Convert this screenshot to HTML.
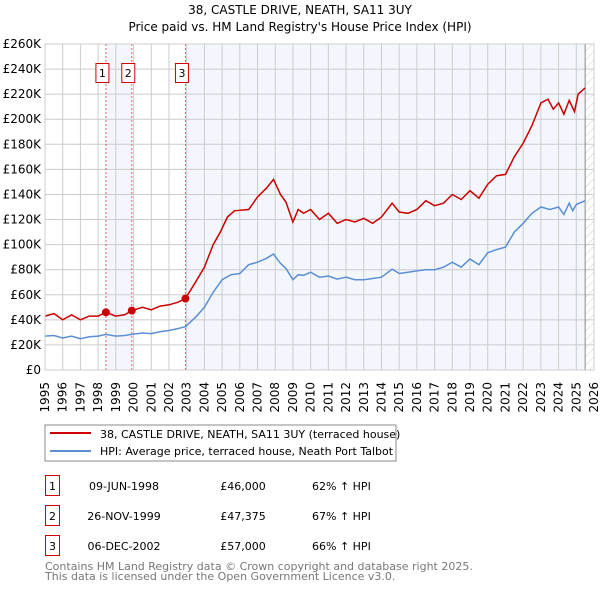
<!DOCTYPE html>
<html><head><meta charset="utf-8"><style>
body{margin:0;background:#fff;font-family:"Liberation Sans","DejaVu Sans",sans-serif}
svg text{font-family:"DejaVu Sans","Liberation Sans",sans-serif}
</style></head><body>
<svg id="c" width="600" height="590" xmlns="http://www.w3.org/2000/svg">
<defs><pattern id="hatch" width="6" height="6" patternUnits="userSpaceOnUse" patternTransform="rotate(45)"><line x1="0" y1="0" x2="0" y2="6" stroke="#ccc" stroke-width="1"/></pattern></defs>
<text x="300" y="14" text-anchor="middle" font-size="12" fill="#000">38, CASTLE DRIVE, NEATH, SA11 3UY</text>
<text x="300" y="31" text-anchor="middle" font-size="12" fill="#000">Price paid vs. HM Land Registry's House Price Index (HPI)</text>
<g id="plot"></g>
<rect x="45" y="425" width="351" height="36" fill="#fff" stroke="#888"/>
<line x1="50" y1="433" x2="91" y2="433" stroke="#cc0000" stroke-width="2"/>
<text x="100" y="438" font-size="11">38, CASTLE DRIVE, NEATH, SA11 3UY (terraced house)</text>
<line x1="50" y1="451" x2="91" y2="451" stroke="#5b8fd4" stroke-width="2"/>
<text x="100" y="455" font-size="11">HPI: Average price, terraced house, Neath Port Talbot</text>
<g font-size="11">
<rect x="45.5" y="475.5" width="14" height="20" fill="none" stroke="#c00"/><text x="52.5" y="490" text-anchor="middle">1</text>
<text x="124" y="490" text-anchor="middle">09-JUN-1998</text><text x="243" y="490" text-anchor="middle">£46,000</text><text x="312" y="490">62% ↑ HPI</text>
<rect x="45.5" y="505.5" width="14" height="20" fill="none" stroke="#c00"/><text x="52.5" y="520" text-anchor="middle">2</text>
<text x="124" y="520" text-anchor="middle">26-NOV-1999</text><text x="243" y="520" text-anchor="middle">£47,375</text><text x="312" y="520">67% ↑ HPI</text>
<rect x="45.5" y="535.5" width="14" height="20" fill="none" stroke="#c00"/><text x="52.5" y="550" text-anchor="middle">3</text>
<text x="124" y="550" text-anchor="middle">06-DEC-2002</text><text x="243" y="550" text-anchor="middle">£57,000</text><text x="312" y="550">66% ↑ HPI</text>
</g>
<text x="45" y="570" font-size="11" fill="#777">Contains HM Land Registry data © Crown copyright and database right 2025.</text>
<text x="45" y="580" font-size="11" fill="#777">This data is licensed under the Open Government Licence v3.0.</text>
</svg>
<script>
const yTicks=[0,20000,40000,60000,80000,100000,120000,140000,160000,180000,200000,220000,240000,260000];
const yTickLabels=["£0","£20K","£40K","£60K","£80K","£100K","£120K","£140K","£160K","£180K","£200K","£220K","£240K","£260K"];
const years=[1995,1996,1997,1998,1999,2000,2001,2002,2003,2004,2005,2006,2007,2008,2009,2010,2011,2012,2013,2014,2015,2016,2017,2018,2019,2020,2021,2022,2023,2024,2025,2026];
const hpiT=[1995,1995.5,1996,1996.5,1997,1997.5,1998,1998.44,1999,1999.5,1999.9,2000.5,2001,2001.5,2002,2002.5,2002.93,2003.5,2004,2004.5,2005,2005.5,2006,2006.5,2007,2007.5,2007.9,2008.3,2008.6,2009,2009.3,2009.6,2010,2010.5,2011,2011.5,2012,2012.5,2013,2013.5,2014,2014.6,2015,2015.5,2016,2016.5,2017,2017.5,2018,2018.5,2019,2019.5,2020,2020.5,2021,2021.5,2022,2022.5,2023,2023.5,2024,2024.3,2024.6,2024.8,2025,2025.5];
const hpiV=[27000,27500,25500,27000,25000,26500,27000,28400,27000,27500,28400,29500,29000,30500,31500,33000,34500,42000,50000,62000,72000,76000,77000,84000,86000,89000,92500,85000,81000,72000,76000,75500,78000,74000,75000,72500,74000,72000,72000,73000,74000,80500,77000,78000,79000,80000,80000,82000,86000,82000,88500,84000,93500,96000,98000,110000,117000,125000,130000,128000,130000,124000,133000,127000,132000,135000];
const priceT=[1995,1995.5,1996,1996.5,1997,1997.5,1998,1998.44,1999,1999.5,1999.9,2000.5,2001,2001.5,2002,2002.5,2002.93,2003.5,2004,2004.5,2004.9,2005.3,2005.7,2006.5,2007,2007.5,2007.9,2008.3,2008.6,2009,2009.3,2009.6,2010,2010.5,2011,2011.5,2012,2012.5,2013,2013.5,2014,2014.6,2015,2015.5,2016,2016.5,2017,2017.5,2018,2018.5,2019,2019.5,2020,2020.5,2021,2021.5,2022,2022.5,2023,2023.4,2023.7,2024,2024.3,2024.6,2024.9,2025.1,2025.5];
const priceV=[43000,45000,40000,44000,40000,43000,43000,46000,43000,44000,47375,50000,48000,51000,52000,54000,57000,70000,82000,100000,110000,122000,127000,128000,138000,145000,152000,140000,134000,118000,128000,125000,128000,120000,125000,117000,120000,118000,121000,117000,122000,133000,126000,125000,128000,135000,131000,133000,140000,136000,143000,137000,148000,155000,156000,170000,181000,195000,213000,216000,208000,213000,204000,215000,206000,220000,225000];
const saleT=[1998.44,1999.9,2002.93];
const saleV=[46000,47375,57000];
const saleLabels=["1","2","3"];

const NS="http://www.w3.org/2000/svg";
const L=45,R=594,T=44,B=370,Y0=1995,Y1=2026,VMAX=260000,DATA_END=2025.5;
const xs=t=>L+(t-Y0)/(Y1-Y0)*(R-L);
const ys=v=>B-v/VMAX*(B-T);
const g=document.getElementById('plot');
function mk(tag,attrs){const e=document.createElementNS(NS,tag);for(const k in attrs)e.setAttribute(k,attrs[k]);g.appendChild(e);return e;}
let e;
e=mk('rect',{x:L,y:T,width:R-L,height:B-T,fill:'#fff'});


e=mk('rect',{x:xs(saleT[0]),y:T,width:xs(saleT[1])-xs(saleT[0]),height:B-T,fill:'#eef3fc',opacity:0.7});


e=mk('rect',{x:xs(saleT[2]),y:T,width:xs(DATA_END)-xs(saleT[2]),height:B-T,fill:'#eef3fc',opacity:0.7});


e=mk('rect',{x:xs(DATA_END),y:T,width:R-xs(DATA_END),height:B-T,fill:'url(#hatch)'});


yTicks.forEach((v,i)=>{
  e=mk('line',{x1:L,x2:R,y1:ys(v),y2:ys(v),stroke:'#ccc','stroke-width':1});
  
  
  e=mk('text',{x:L-4,y:ys(v)+4,'text-anchor':'end','font-size':12});
  e.textContent=yTickLabels[i];
  
  
});
years.forEach(y=>{
  e=mk('line',{x1:xs(y),x2:xs(y),y1:T,y2:B,stroke:'#ccc','stroke-width':1});
  
  
  e=mk('text',{x:0,y:0,'text-anchor':'end','font-size':12,transform:`translate(${xs(y)+4},${B+12}) rotate(-90)`});
  e.textContent=y;
  
  
});
e=mk('line',{x1:xs(DATA_END),x2:xs(DATA_END),y1:T,y2:B,stroke:'#888','stroke-width':1});


saleT.forEach((t,i)=>{
  e=mk('line',{x1:xs(t),x2:xs(t),y1:T,y2:B,stroke:'#e06060','stroke-width':1,'stroke-dasharray':'2,2'});
  
  
  e=mk('rect',{x:xs(t)-10,y:63.5,width:13,height:19,fill:'#fff',stroke:'#c00'});
  
  
  e=mk('text',{x:xs(t)-3.5,y:77,'text-anchor':'middle','font-size':11});
  e.textContent=saleLabels[i];
  
  
});
e=mk('path',{d:hpiT.map((t,i)=>(i?'L':'M')+xs(t).toFixed(1)+','+ys(hpiV[i]).toFixed(1)).join(''),fill:'none',stroke:'#5b8fd4','stroke-width':1.5});


e=mk('path',{d:priceT.map((t,i)=>(i?'L':'M')+xs(t).toFixed(1)+','+ys(priceV[i]).toFixed(1)).join(''),fill:'none',stroke:'#cc0000','stroke-width':1.5});


saleT.forEach((t,i)=>{
  e=mk('circle',{cx:xs(t),cy:ys(saleV[i]),r:4,fill:'#cc0000'});
  
  
});
e=mk('rect',{x:L,y:T,width:R-L,height:B-T,fill:'none',stroke:'#ccc'});


</script>
</body></html>
